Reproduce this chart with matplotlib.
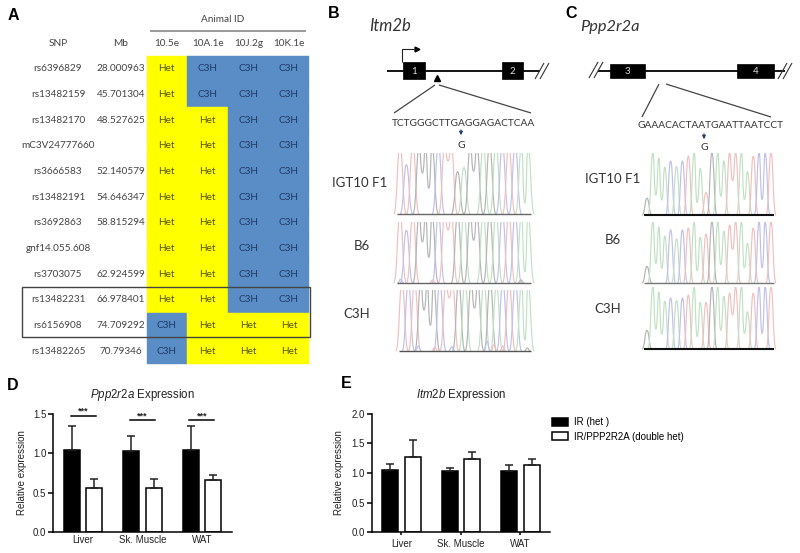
import matplotlib
matplotlib.use("Agg")
import matplotlib.pyplot as plt
from matplotlib.patches import Rectangle, PathPatch
from matplotlib.path import Path

W, H = 800, 553
TABLE_FONT = "Lato"
CHART_FONT = "Liberation Sans"

plt.rcParams["font.family"] = CHART_FONT
plt.rcParams["mathtext.fontset"] = "custom"
plt.rcParams["mathtext.rm"] = "Liberation Sans"
plt.rcParams["mathtext.it"] = "Liberation Sans:italic"

# panel A
snps = ["rs6396829", "rs13482159", "rs13482170", "mC3V24777660", "rs3666583", "rs13482191",
        "rs3692863", "gnf14.055.608", "rs3703075", "rs13482231", "rs6156908", "rs13482265"]
mb = ["28.000963", "45.701304", "48.527625", "", "52.140579", "54.646347",
      "58.815294", "", "62.924599", "66.978401", "74.709292", "70.79346"]
animals = ["10.5e", "10A.1e", "10J.2g", "10K.1e"]
geno_105e = ["Het"] * 10 + ["C3H"] * 2
geno_10a = ["C3H"] * 2 + ["Het"] * 10
geno_10j = ["C3H"] * 10 + ["Het"] * 2
geno_10k = ["C3H"] * 10 + ["Het"] * 2

# panels B and C, sequencing traces
bases_b = "TCTGGGCTTGAGGAGACTCAA"
valleys_b = [0, 0, 0, .67, .42, 0, 0, .87, 0, 0, 0, .7, 0, 0, 0, 0, 0, 0, 0, .18]
f1_b = [1, .72, 1, 1, 1, 1, 1, 1, 1, .62, .68, 1, 1, 1, 1, 1, 1, 1, 1, 1, 1]
b6_b = [1, .77, 1, 1, 1, 1, 1, 1, 1, 1, 1, 1, 1, 1, 1, 1, 1, 1, 1, 1, 1]
c3h_b = [1, 1, 1, 1, 1, 1, 1, 1, 1, 1, 1, 1, 1, 1, 1, .95, 1, 1, 1, 1, 1]
# small off-call peaks near the baseline: position in bases, height, base
bumps_b6 = [(0.1, .06, "C"), (5.1, .05, "T"), (18.9, .05, "G")]
bumps_c3h = [(2.6, .08, "C"), (5.2, .06, "T"), (7.9, .07, "C"), (13.5, .16, "C"),
             (14.6, .1, "T"), (16.0, .08, "T"), (19.9, .05, "G")]

bases_c = "GAAACACTAATGAATTAATCCT"
valleys_c = [0, .32, .24, 0, 0, 0, 0, 0, .2, 0, 0, 0, .3, 0, .55, 0, .25, 0, 0, .25, 0]
f1_c = [.27, 1, .92, .77, .87, .78, .87, .95, 1, .75, .36, 1, 1, .87, 1, 1, 1, .7, .95, 1, 1, 1]
b6_c = [.27, 1, .92, .77, .87, .72, .87, .9, 1, .75, .8, 1, 1, .85, .95, 1, 1, .65, .9, 1, 1, 1]
c3h_c = [.3, 1, .92, .77, .82, .78, .82, .87, 1, .75, .75, 1, 1, .85, .9, 1, 1, .6, .9, 1, 1, 1]

# panels D and E
tissues = ["Liver", "Sk. Muscle", "WAT"]
ppp_ir = [1.04, 1.03, 1.04]
ppp_ir_err = [0.31, 0.19, 0.30]
ppp_dh = [0.56, 0.56, 0.66]
ppp_dh_err = [0.11, 0.11, 0.06]
ppp_sig = [1.475, 1.42, 1.42]
itm_ir = [1.05, 1.03, 1.04]
itm_ir_err = [0.11, 0.06, 0.10]
itm_dh = [1.27, 1.24, 1.14]
itm_dh_err = [0.29, 0.12, 0.10]

YELLOW = "#ffff00"
BLUE = "#5a8dc5"
TRACE_COLORS = {"G": "#b4b4b4", "A": "#c2e0c4", "T": "#f0c0c0", "C": "#c0c0ea"}


def line(ax, xs, ys, color="#222222", lw=1.0):
    ax.plot(xs, ys, color=color, lw=lw, solid_capstyle="butt")


def label(ax, x, y, s, size=7.2, color="#444444", family=TABLE_FONT, **kw):
    ax.text(x, y, s, fontsize=size, color=color, family=family, ha="center", va="center", **kw)


def draw_table(ax):
    columns = [geno_105e, geno_10a, geno_10j, geno_10k]
    x0, cw = 146.5, 40.7
    y0, rh = 56.0, 25.67
    for j, col in enumerate(columns):
        x = x0 + j * cw
        label(ax, x + cw / 2, 44, animals[j])
        for i, g in enumerate(col):
            y = y0 + i * rh
            fc = YELLOW if g == "Het" else BLUE
            ax.add_patch(Rectangle((x, y), cw, rh, fc=fc, ec=fc, lw=0.3))
            label(ax, x + cw / 2, y + rh / 2, g,
                  color="#55550f" if g == "Het" else "#1e3a66")
    for i, (s, m) in enumerate(zip(snps, mb)):
        y = y0 + (i + 0.5) * rh
        label(ax, 58, y, s)
        label(ax, 121, y, m)
    label(ax, 58, 44, "SNP")
    label(ax, 121, 44, "Mb")
    label(ax, 223, 20, "Animal ID")
    line(ax, [150, 306], [31, 31], color="#888888", lw=1.2)
    ax.add_patch(Rectangle((22, 287), 287.5, 50, fc="none", ec="#444444", lw=1.0))


def draw_exon(ax, x0, x1, y0, y1, s):
    ax.add_patch(Rectangle((x0, y0), x1 - x0, y1 - y0, fc="black", ec="black", lw=0.5, zorder=3))
    ax.text((x0 + x1) / 2, (y0 + y1) / 2 + 0.5, s, color="#dddddd", fontsize=7, ha="center",
            va="center", family=TABLE_FONT, zorder=4)


def draw_break(ax, x, y0=79, y1=63):
    line(ax, [x, x + 9], [y0, y1], color="#333333", lw=0.8)
    line(ax, [x + 5, x + 14], [y0, y1], color="#333333", lw=0.8)


def draw_peak(ax, x, top, lx, ly, rx, ry, color, clip):
    verts = [(lx, ly), (lx + 0.6 * (x - lx), ly), (lx + 0.55 * (x - lx), top), (x, top),
             (rx - 0.55 * (rx - x), top), (rx - 0.6 * (rx - x), ry), (rx, ry)]
    codes = [Path.MOVETO] + [Path.CURVE4] * 6
    p = PathPatch(Path(verts, codes), fc="none", ec=color, lw=0.85)
    ax.add_patch(p)
    p.set_clip_path(clip)


def draw_trace(ax, bases, heights, valleys, x0, x1, base_y, top_y, peak_scale, foot, base_color,
               base_lw, bumps=()):
    dx = (x1 - x0) / (len(bases) - 1)
    span = base_y - top_y
    clip = Rectangle((x0 - 10, top_y), x1 - x0 + 20, span + 2, transform=ax.transData)
    for i, (b, h) in enumerate(zip(bases, heights)):
        x = x0 + i * dx
        top = base_y - h * span * peak_scale
        left_v = valleys[i - 1] if i > 0 else 0
        right_v = valleys[i] if i < len(valleys) else 0
        lx = x - (0.5 if left_v else foot) * dx
        rx = x + (0.5 if right_v else foot) * dx
        draw_peak(ax, x, top, lx, base_y - left_v * span, rx, base_y - right_v * span,
                  TRACE_COLORS[b], clip)
    for pos, h, b in bumps:
        x = x0 + pos * dx
        draw_peak(ax, x, base_y - h * span, x - 0.5 * dx, base_y, x + 0.5 * dx, base_y,
                  TRACE_COLORS[b], clip)
    line(ax, [x0 - 3, x1 + 3], [base_y, base_y], color=base_color, lw=base_lw)


def draw_gene_b(ax):
    ax.text(390, 26, "Itm2b", fontsize=12, style="italic", color="#333333", family=TABLE_FONT,
            ha="center", va="center")
    line(ax, [387, 540], [71, 71], color="black", lw=1.3)
    draw_exon(ax, 403, 425, 62, 79, "1")
    draw_exon(ax, 502, 523, 62, 79, "2")
    draw_break(ax, 535)
    line(ax, [402, 402, 414], [62, 49, 49], color="#222222", lw=0.8)
    ax.plot([417], [49], marker=">", ms=3.5, color="black")
    ax.plot([437], [77.5], marker="^", ms=4.5, color="black")
    line(ax, [394, 435], [113, 85], color="#444444", lw=0.9)
    line(ax, [439, 531], [85, 113], color="#444444", lw=0.9)
    label(ax, 463.5, 123, "TCTGGGCTTGAGGAGACTCAA", size=7.3, color="#333333")
    ax.annotate("", xy=(461, 138), xytext=(461, 127),
                arrowprops=dict(arrowstyle="-|>", color="#1f3a6e", lw=0.8, mutation_scale=5))
    label(ax, 461, 145, "G", size=7.5, color="#333333")
    label(ax, 360, 183, "IGT10 F1", size=9.5, color="#333333")
    label(ax, 362, 246, "B6", size=9.5, color="#333333")
    label(ax, 357, 314, "C3H", size=9.5, color="#333333")
    draw_trace(ax, bases_b, f1_b, valleys_b, 400, 528, 214, 153, 1.12, 1.0, "#666666", 1.0)
    draw_trace(ax, bases_b, b6_b, valleys_b, 400, 528, 283, 222, 1.12, 1.0, "#666666", 1.0, bumps_b6)
    draw_trace(ax, bases_b, c3h_b, valleys_b, 402, 528, 351, 290, 1.12, 1.0, "#555555", 1.0, bumps_c3h)


def draw_gene_c(ax):
    ax.text(610, 27, "Ppp2r2a", fontsize=11.8, style="italic", color="#333333", family=TABLE_FONT,
            ha="center", va="center")
    line(ax, [598, 785], [71, 71], color="black", lw=1.3)
    draw_exon(ax, 610, 645, 64, 78, "3")
    draw_exon(ax, 737, 774, 64, 78, "4")
    draw_break(ax, 589, 78, 62)
    draw_break(ax, 778)
    line(ax, [642, 659], [117, 84], color="#444444", lw=0.9)
    line(ax, [666, 771], [84, 117], color="#444444", lw=0.9)
    label(ax, 710, 126, "GAAACACTAATGAATTAATCCT", size=7.25, color="#333333")
    ax.annotate("", xy=(704, 142), xytext=(704, 131),
                arrowprops=dict(arrowstyle="-|>", color="#1f3a6e", lw=0.8, mutation_scale=5))
    label(ax, 704, 148, "G", size=7.5, color="#333333")
    label(ax, 613, 179, "IGT10 F1", size=9.5, color="#333333")
    label(ax, 613, 240, "B6", size=9.5, color="#333333")
    label(ax, 608, 309, "C3H", size=9.5, color="#333333")
    draw_trace(ax, bases_c, f1_c, valleys_c, 647, 771, 215, 153, 1.0, 0.85, "#111111", 1.5)
    draw_trace(ax, bases_c, b6_c, valleys_c, 647, 771, 283, 222, 1.0, 0.85, "#777777", 1.0)
    draw_trace(ax, bases_c, c3h_c, valleys_c, 647, 771, 349, 287, 1.0, 0.85, "#111111", 1.5)


def px_axes(fig, left, top, right, bottom):
    ax = fig.add_axes([left / W, 1 - bottom / H, (right - left) / W, (bottom - top) / H])
    ax.patch.set_alpha(0)
    return ax


def bar_panel(ax, ir, ir_err, dh, dh_err, ymax, title, ticks, xtick_len, xtick_pad, ylabel_pad):
    offset, width = 0.19, 0.27
    err_kw = dict(ecolor="#222222", elinewidth=1.1, capsize=2.9, capthick=1.1)
    bars_ir = []
    bars_dh = []
    for i in range(len(tissues)):
        bars_ir = ax.bar(i - offset, ir[i], width, color="black", edgecolor="black", lw=1.1,
                         yerr=[[0], [ir_err[i]]], error_kw=err_kw)
        bars_dh = ax.bar(i + offset, dh[i], width, color="white", edgecolor="black", lw=1.1,
                         yerr=[[0], [dh_err[i]]], error_kw=err_kw)
    ax.set_xlim(-0.5, 2.5)
    ax.set_ylim(0, ymax)
    ax.set_yticks(ticks)
    ax.set_yticklabels([f"{t:.1f}" for t in ticks], fontsize=7, color="#222222")
    ax.set_xticks(range(len(tissues)))
    ax.set_xticklabels(tissues, fontsize=7, color="#222222")
    ax.tick_params(axis="y", length=3.5, width=1.1, pad=1.5)
    ax.tick_params(axis="x", length=xtick_len, width=1.1, pad=xtick_pad)
    ax.spines["top"].set_visible(False)
    ax.spines["right"].set_visible(False)
    ax.spines["left"].set_linewidth(1.1)
    ax.spines["bottom"].set_linewidth(1.1)
    ax.set_ylabel("Relative expression", fontsize=7, color="#222222", labelpad=ylabel_pad)
    ax.set_title(title, fontsize=8.3, color="#222222", pad=11.5)
    return bars_ir, bars_dh


fig = plt.figure(figsize=(W / 100, H / 100), dpi=100)
bg = fig.add_axes([0, 0, 1, 1])
bg.set_xlim(0, W)
bg.set_ylim(H, 0)
bg.axis("off")

draw_table(bg)
draw_gene_b(bg)
draw_gene_c(bg)

for s, x, y in [("A", 13, 16), ("B", 334, 14), ("C", 571, 14), ("D", 13, 386), ("E", 346, 384)]:
    bg.text(x, y, s, fontsize=11.5, fontweight="bold", color="black", family=CHART_FONT,
            ha="center", va="center")

ax_d = px_axes(fig, 53.3, 413.7, 231.7, 532.3)
bar_panel(ax_d, ppp_ir, ppp_ir_err, ppp_dh, ppp_dh_err, 1.5,
          r"$\mathit{Ppp2r2a}$ Expression", [0.0, 0.5, 1.0, 1.5], 0, 2.0, 4.5)
for i, y in enumerate(ppp_sig):
    ax_d.plot([i - 0.21, i + 0.21], [y, y], color="black", lw=1.1, clip_on=False)
    ax_d.text(i, y + 0.055, "***", fontsize=6.5, fontweight="bold", ha="center", va="center",
              color="#222222")

ax_e = px_axes(fig, 371.7, 413.7, 550, 532.3)
h_ir, h_dh = bar_panel(ax_e, itm_ir, itm_ir_err, itm_dh, itm_dh_err, 2.0,
                       r"$\mathit{Itm2b}$ Expression", [0.0, 0.5, 1.0, 1.5, 2.0], 2.5, 2.5, 5.5)
ax_e.legend([h_ir, h_dh], ["IR (het )", "IR/PPP2R2A (double het)"], loc="upper left",
            bbox_to_anchor=(1.012, 0.97), frameon=False, fontsize=7, handlelength=1.65,
            handleheight=0.9, handletextpad=0.6, labelspacing=0.45, borderaxespad=0, borderpad=0)

fig.savefig("out.png", dpi=100)
